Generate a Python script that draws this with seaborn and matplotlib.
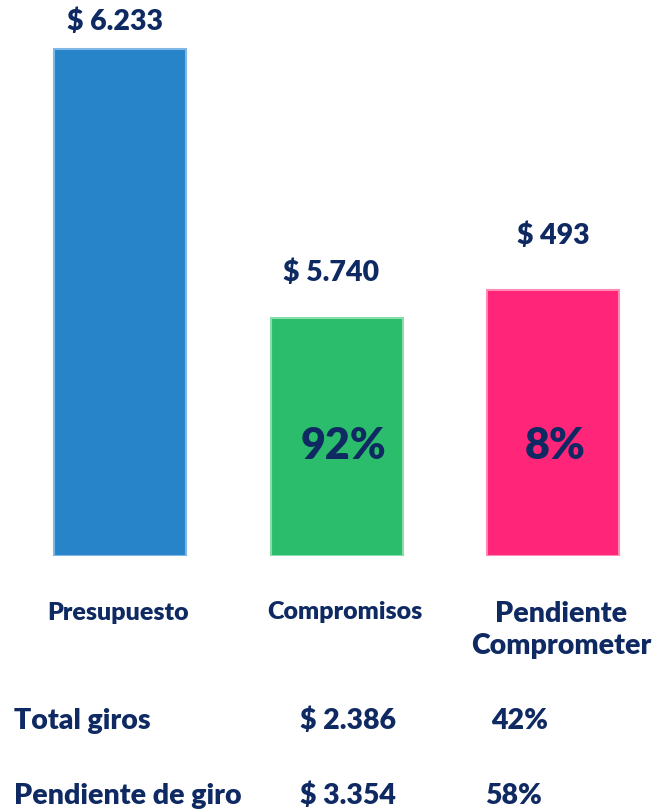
import matplotlib
matplotlib.use("Agg")
import matplotlib.pyplot as plt
import seaborn as sns
import pandas as pd

# Budget figures (millions)
categories = ["Presupuesto", "Compromisos", "Pendiente\nComprometer"]
values = [6233, 5740, 493]
bar_colors = ["#2884c8", "#2bbd6c", "#ff2578"]
edge_colors = ["#7fb8e6", "#86dcaa", "#ff8ab6"]

# Disbursement breakdown of the commitments
giro_labels = ["Total giros", "Pendiente de giro"]
giro_values = [2386, 3354]

NAVY = "#0f2a62"
W, H = 652, 809
WEIGHT = "heavy"

sns.set_theme(style="white")
plt.rcParams["font.family"] = ["Lato", "DejaVu Sans"]

fig = plt.figure(figsize=(W / 100, H / 100), dpi=100)


def money(v):
    return "$ " + f"{v:,}".replace(",", ".")


def fx(px):
    return px / W


def fy(py):
    return 1 - py / H


# each column sits in its own panel with a shared baseline
centers = [120, 336.5, 553]
bar_px = [507, 238, 265]          # drawn bar height in each panel
baseline, top = 555.5, 15
label_gap = [27, 45, 55]          # value label distance above the bar
cat_font = [18, 18, 20.5]
cat_y = [613, 612, 630]
cat_dx = [-2, 8, 8]

total = values[0]
for i, (cat, val) in enumerate(zip(categories, values)):
    ax = fig.add_axes([fx(centers[i] - 100), fy(baseline), fx(200), (baseline - top) / H])
    df = pd.DataFrame({"cat": [cat], "val": [val]})
    sns.barplot(data=df, x="cat", y="val", ax=ax, color=bar_colors[i],
                width=0.66, saturation=1, edgecolor=edge_colors[i], linewidth=1.5)
    ax.set_xlim(-0.5, 0.5)
    ax.set_ylim(0, val * (baseline - top) / bar_px[i])
    ax.axis("off")

    ax.annotate(money(val), xy=(0, val), xytext=(-5 if i < 2 else 0, label_gap[i]),
                textcoords="offset pixels", ha="center", va="center",
                fontsize=20.5, fontweight=WEIGHT, color=NAVY)

    if i > 0:
        share = round(val / total * 100)
        fig.text(fx(centers[i] + (7 if i == 1 else 2)), fy(446), f"{share}%",
                 ha="center", va="center", fontsize=31, fontweight=WEIGHT, color=NAVY)

    fig.text(fx(centers[i] + cat_dx[i]), fy(cat_y[i]), cat, ha="center", va="center",
             fontsize=cat_font[i], fontweight=WEIGHT, color=NAVY, linespacing=1.3)

# disbursement table under the chart
committed = values[1]
row_y = [721, 796]
pct_x = [520, 513]
for lbl, v, y, px in zip(giro_labels, giro_values, row_y, pct_x):
    fig.text(fx(14), fy(y), lbl, ha="left", va="center",
             fontsize=20.5, fontweight=WEIGHT, color=NAVY)
    fig.text(fx(348), fy(y), money(v), ha="center", va="center",
             fontsize=20.5, fontweight=WEIGHT, color=NAVY)
    fig.text(fx(px), fy(y), f"{round(v / committed * 100)}%", ha="center", va="center",
             fontsize=20.5, fontweight=WEIGHT, color=NAVY)

fig.savefig("out.png", dpi=100, facecolor="white")
